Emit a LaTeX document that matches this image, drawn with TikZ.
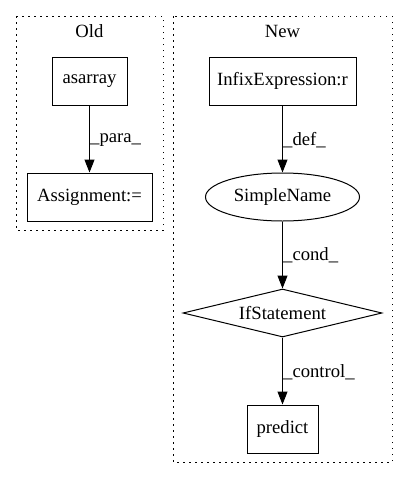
\documentclass[tikz,border=0pt]{standalone}
\usepackage{fontspec}
\setmainfont{Liberation Serif}
\usetikzlibrary{shapes.geometric,arrows.meta}
\begin{document}
\begin{tikzpicture}[x=1pt,y=1pt,
  every node/.style={font=\fontsize{18.67}{22}\selectfont},
  box/.style={draw,line width=1pt,rectangle,inner sep=0pt,minimum height=48pt},
  oval/.style={draw,line width=1pt,ellipse,inner sep=0pt,minimum height=48pt},
  dia/.style={draw,line width=1pt,diamond,aspect=4.1,inner sep=0pt,minimum height=48pt},
  cluster/.style={draw,line width=1pt,dash pattern=on 1.5pt off 4.5pt},
  edge/.style={line width=1pt,-{Triangle[length=13pt,width=10pt]}},
  elabel/.style={anchor=west,inner sep=0pt}
]
\useasboundingbox (0,0) rectangle (408,-480);
% clusters
\draw[cluster] (16,-16) rectangle (163,-230);
\draw[cluster] (173,-16) rectangle (392,-462);
\node (oldlbl) at (89.5,-31) {Old};
\node (newlbl) at (282.5,-31) {New};
% Old
\node[box,minimum width=75pt] (asarray) at (89.5,-81) {asarray};
\node[box,minimum width=125pt] (assign) at (89.5,-197) {Assignment:=};
% New
\node[box,minimum width=147pt] (infix) at (282.5,-81) {InfixExpression:r};
\node[oval,minimum width=154pt] (simple) at (282.5,-197) {SimpleName};
\node[dia,minimum width=199pt] (ifst) at (282.5,-313) {IfStatement};
\node[box,minimum width=71pt] (predict) at (282.5,-429) {predict};
% edges
\draw[edge] (asarray) -- (assign);
\draw[edge] (infix) -- (simple);
\draw[edge] (simple) -- (ifst);
\draw[edge] (ifst) -- (predict);
% labels
\node[elabel] (lpara) at (90,-140) {\_para\_};
\node[elabel] (ldef) at (283,-140) {\_def\_};
\node[elabel] (lcond) at (283,-255) {\_cond\_};
\node[elabel] (lcontrol) at (283,-372) {\_control\_};
\end{tikzpicture}
\end{document}
